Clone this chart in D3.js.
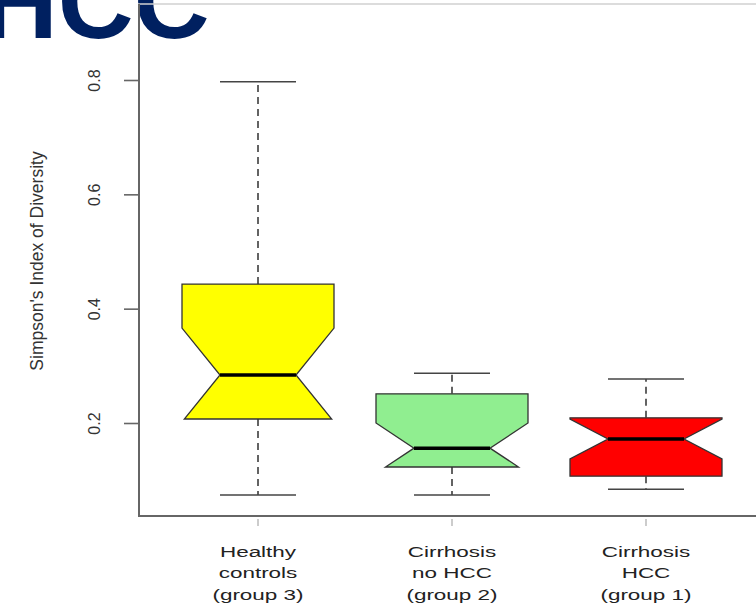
<!DOCTYPE html>
<html>
<head>
<meta charset="utf-8">
<script src="https://cdn.jsdelivr.net/npm/d3@7"></script>
<style>
  html, body { margin: 0; padding: 0; background: #fff; }
  svg { display: block; }
  text { font-family: "Liberation Sans", Arial, Helvetica, sans-serif; }
</style>
</head>
<body>
<svg id="chart" width="756" height="606"></svg>
<script>
// Groups, in plotting order
const groups = ["Healthy controls (group 3)", "Cirrhosis no HCC (group 2)", "Cirrhosis HCC (group 1)"];
const groupLabelLines = [
  ["Healthy", "controls", "(group 3)"],
  ["Cirrhosis", "no HCC", "(group 2)"],
  ["Cirrhosis", "HCC", "(group 1)"]
];
const boxColors = ["#ffff00", "#90ee90", "#ff0000"];

// Five-number summaries of Simpson's index per group
const whiskerLow  = [0.074, 0.074, 0.084];
const q1          = [0.207, 0.123, 0.107];
const median      = [0.284, 0.156, 0.172];
const q3          = [0.443, 0.251, 0.209];
const whiskerHigh = [0.797, 0.287, 0.277];
// Notch (confidence interval of the median)
const notchLow    = [0.202, 0.112, 0.137];
const notchHigh   = [0.366, 0.200, 0.207];

const yTicks = [0.2, 0.4, 0.6, 0.8];
const yTitle = "Simpson's Index of Diversity";
const slideTitle = "HCC";

const svg = d3.select("#chart");

// Slide heading, partly above the visible area
svg.append("text")
  .attr("x", -18).attr("y", 38)
  .attr("font-size", 105).attr("font-weight", "bold")
  .attr("fill", "#002060")
  .text(slideTitle);

const y = d3.scaleLinear().domain([0.2, 0.8]).range([423, 80]);
const x = d3.scaleBand().domain(groups).range([161, 743]).padding(0);
const cx = g => x(g) + x.bandwidth() / 2;
const halfW = 76;       // half box width
const notchW = halfW / 2;
const capW = halfW / 2;

// Plot frame
const frame = svg.append("g");
frame.append("line").attr("x1", 138).attr("x2", 770).attr("y1", 4).attr("y2", 4)
  .attr("stroke", "#d0d0d0").attr("stroke-width", 1.5);
frame.append("line").attr("x1", 139).attr("x2", 139).attr("y1", 4).attr("y2", 516)
  .attr("stroke", "#666").attr("stroke-width", 2);
frame.append("line").attr("x1", 138).attr("x2", 770).attr("y1", 516).attr("y2", 516)
  .attr("stroke", "#666").attr("stroke-width", 2);

// Y axis ticks and labels
const yAxis = svg.append("g").attr("transform", "translate(139,0)")
  .call(d3.axisLeft(y).tickValues(yTicks).tickSize(15).tickFormat(d3.format(".1f")));
yAxis.select(".domain").remove();
yAxis.selectAll(".tick line").attr("stroke", "#666").attr("stroke-width", 1.6);
yAxis.selectAll(".tick text")
  .attr("font-size", 16).attr("fill", "#333")
  .attr("text-anchor", "middle")
  .attr("x", null).attr("dy", null)
  .attr("transform", "translate(-39,0) rotate(-90)");

// Y title
svg.append("text")
  .attr("transform", "translate(43,261) rotate(-90)")
  .attr("text-anchor", "middle")
  .attr("font-size", 17.5).attr("fill", "#333")
  .text(yTitle);

// X ticks and labels
const xg = svg.append("g");
groups.forEach((g, i) => {
  const c = cx(g);
  xg.append("line").attr("x1", c).attr("x2", c).attr("y1", 519).attr("y2", 526)
    .attr("stroke", "#999").attr("stroke-width", 1);
  const t = xg.append("g").attr("transform", `translate(${c},0) scale(1.45,1)`);
  groupLabelLines[i].forEach((line, k) => {
    t.append("text").attr("x", 0).attr("y", 557 + k * 21.5)
      .attr("text-anchor", "middle").attr("font-size", 15.5).attr("fill", "#222")
      .text(line);
  });
});

// Half width of a notched box at a hinge, where the notch may reach past it
function hingeHalf(hinge, med, conf) {
  const past = Math.abs(conf - med) > Math.abs(hinge - med);
  if (!past) return { w: halfW, full: true };
  const t = Math.abs(hinge - med) / Math.abs(conf - med);
  return { w: notchW + t * (halfW - notchW), full: false };
}

const boxes = svg.append("g");
groups.forEach((g, i) => {
  const c = cx(g);
  const lo = hingeHalf(q1[i], median[i], notchLow[i]);
  const hi = hingeHalf(q3[i], median[i], notchHigh[i]);

  // Whiskers
  boxes.append("line").attr("x1", c).attr("x2", c)
    .attr("y1", y(q3[i])).attr("y2", y(whiskerHigh[i]))
    .attr("stroke", "#222").attr("stroke-width", 1.4).attr("stroke-dasharray", "7,5");
  boxes.append("line").attr("x1", c).attr("x2", c)
    .attr("y1", y(q1[i])).attr("y2", y(whiskerLow[i]))
    .attr("stroke", "#222").attr("stroke-width", 1.4).attr("stroke-dasharray", "7,5");
  [whiskerLow[i], whiskerHigh[i]].forEach(v => {
    boxes.append("line").attr("x1", c - capW).attr("x2", c + capW)
      .attr("y1", y(v)).attr("y2", y(v))
      .attr("stroke", "#444").attr("stroke-width", 1.6);
  });

  // Notched box outline
  const pts = [];
  pts.push([c - lo.w, y(q1[i])], [c + lo.w, y(q1[i])]);
  if (lo.full) pts.push([c + halfW, y(notchLow[i])]);
  pts.push([c + notchW, y(median[i])]);
  if (hi.full) pts.push([c + halfW, y(notchHigh[i])]);
  pts.push([c + hi.w, y(q3[i])], [c - hi.w, y(q3[i])]);
  if (hi.full) pts.push([c - halfW, y(notchHigh[i])]);
  pts.push([c - notchW, y(median[i])]);
  if (lo.full) pts.push([c - halfW, y(notchLow[i])]);

  boxes.append("path")
    .attr("d", d3.line()(pts) + "Z")
    .attr("fill", boxColors[i]).attr("stroke", "#333").attr("stroke-width", 1.3)
    .attr("stroke-linejoin", "miter");

  // Median
  boxes.append("line").attr("x1", c - notchW).attr("x2", c + notchW)
    .attr("y1", y(median[i])).attr("y2", y(median[i]))
    .attr("stroke", "#000").attr("stroke-width", 3.5);
});
</script>
</body>
</html>
